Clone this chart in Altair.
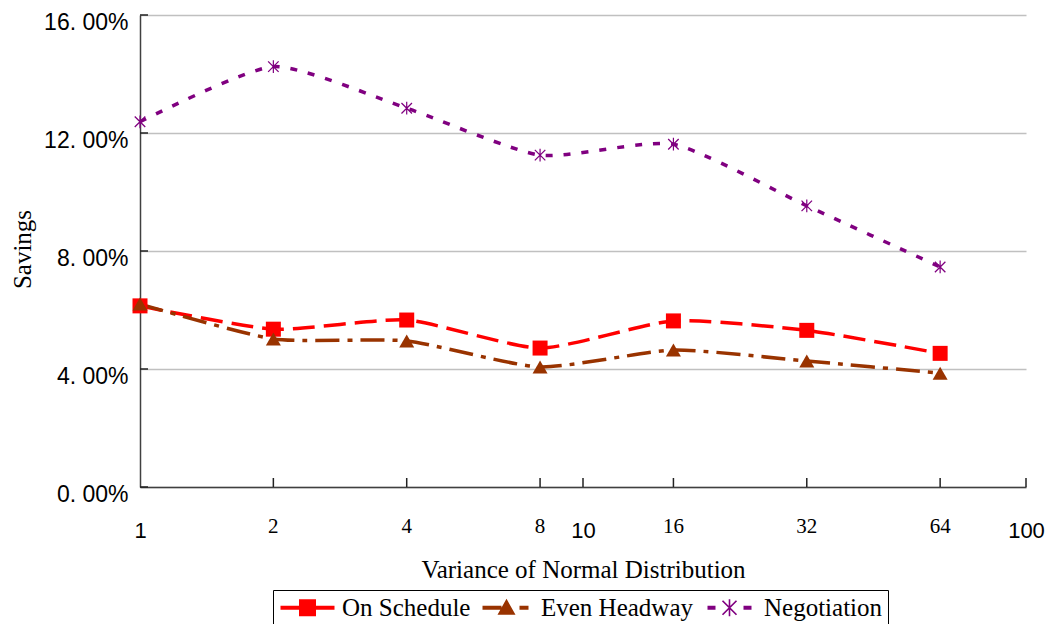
import altair as alt
import pandas as pd

# Savings by variance of the normal distribution (values in percent)
variance = [1, 2, 4, 8, 16, 32, 64]
on_schedule = [6.14, 5.35, 5.66, 4.71, 5.63, 5.31, 4.53]
even_headway = [6.20, 5.02, 4.95, 4.07, 4.64, 4.27, 3.86]
negotiation = [12.38, 14.25, 12.84, 11.25, 11.62, 9.53, 7.46]

series_names = ["On Schedule", "Even Headway", "Negotiation"]
series_colors = ["#FF0000", "#993300", "#800080"]
series_dashes = [[22, 9], [24, 8, 5, 8], [7, 11]]

y_ticks = [0, 4, 8, 12, 16]
x_ticks = [2, 4, 8, 10, 16, 32, 64, 100]
x_axis_labels = [1, 10, 100]
x_point_labels = [2, 4, 8, 16, 32, 64]

SANS = "Liberation Sans"
SERIF = "Liberation Serif"

rows = []
for name, vals in zip(series_names, [on_schedule, even_headway, negotiation]):
    for v, s in zip(variance, vals):
        rows.append({"series": name, "variance": v, "savings": s})
df = pd.DataFrame(rows)

# marker shapes
ASTERISK = ("M-0.08,-0.85H0.08V0.85H-0.08Z "
            "M-0.64,-0.76L0.76,0.64L0.64,0.76L-0.76,-0.64Z "
            "M-0.76,0.64L0.64,-0.76L0.76,-0.64L-0.64,0.76Z")
marker_shapes = ["square", "triangle-up", ASTERISK]

# legend keys: dash + marker + dash
KEY_SCHEDULE = "M-2.7,-0.2H2.7V0.2H-2.7Z M-0.85,-0.85H0.85V0.85H-0.85Z"
KEY_HEADWAY = ("M-2.4,-0.2H-0.5V0.2H-2.4Z M0,-0.9L0.9,0.7H-0.9Z "
               "M1.3,-0.2H2.2V0.2H1.3Z")
KEY_NEGOTIATION = ("M-2.2,-0.2H-1.4V0.2H-2.2Z M1.4,-0.2H2.2V0.2H1.4Z "
                   "M-0.08,-0.85H0.08V0.85H-0.08Z "
                   "M-0.64,-0.76L0.76,0.64L0.64,0.76L-0.76,-0.64Z "
                   "M-0.76,0.64L0.64,-0.76L0.76,-0.64L-0.64,0.76Z")
legend_keys = [KEY_SCHEDULE, KEY_HEADWAY, KEY_NEGOTIATION]

W, H = 886, 472
x_scale = alt.Scale(type="log", domain=[1, 100])
y_scale = alt.Scale(domain=[0, 16], nice=False, zero=True)

x_axis = alt.Axis(
    values=x_axis_labels, format="d", labelFont=SANS, labelFontSize=22,
    labelColor="black", labelPadding=33, labelFlush=False, labelOverlap=False,
    ticks=False, grid=False, domainColor="#404040", domainWidth=1.5,
    title="Variance of Normal Distribution", titleFont=SERIF, titleFontSize=25,
    titleFontWeight="normal", titleColor="black", titleY=82,
    titleBaseline="middle",
)
y_axis = alt.Axis(
    values=y_ticks,
    labelExpr="replace(format(datum.value, '.2f'), '.', '. ') + '%'",
    labelFont=SANS, labelFontSize=23, labelColor="black", labelPadding=12,
    labelBaseline="middle", labelOffset=7,
    ticks=False, grid=True, gridColor="#C0C0C0", gridWidth=1.3,
    domainColor="#404040", domainWidth=1.5,
    title="Savings", titleFont=SERIF, titleFontSize=25, titleFontWeight="normal",
    titleColor="black", titleAngle=270, titleX=-118, titleY=234,
    titleAlign="center", titleBaseline="middle",
)

X = alt.X("variance:Q", scale=x_scale, axis=x_axis)
Y = alt.Y("savings:Q", scale=y_scale, axis=y_axis)

lines = alt.Chart(df).mark_line(interpolate="cardinal", tension=0.4, strokeWidth=3.5).encode(
    x=X,
    y=Y,
    stroke=alt.Stroke("series:N", scale=alt.Scale(domain=series_names, range=series_colors), legend=None),
    strokeDash=alt.StrokeDash("series:N", scale=alt.Scale(domain=series_names, range=series_dashes), legend=None),
)

points = alt.Chart(df).mark_point(filled=True, size=225, opacity=1).encode(
    x=X,
    y=Y,
    fill=alt.Fill("series:N", scale=alt.Scale(domain=series_names, range=series_colors), legend=None),
    shape=alt.Shape("series:N", scale=alt.Scale(domain=series_names, range=marker_shapes), legend=None),
)

legend_def = alt.Legend(
    title=None, orient="none", legendX=133, legendY=575, direction="horizontal",
    columns=3, labelFont=SERIF, labelFontSize=25, labelColor="black",
    labelOffset=22, symbolOffset=17, columnPadding=6, padding=5,
    strokeColor="black", symbolOpacity=1, symbolSize=400, symbolStrokeWidth=0,
    labelLimit=400,
)

legend_layer = alt.Chart(df).transform_filter("false").mark_point(filled=True, size=400).encode(
    x=X,
    y=Y,
    color=alt.Color("series:N", scale=alt.Scale(domain=series_names, range=series_colors), legend=legend_def),
    shape=alt.Shape("series:N", scale=alt.Scale(domain=series_names, range=legend_keys), legend=legend_def),
)

# inward tick marks on both axes
y_tick_marks = alt.Chart(pd.DataFrame({"savings": y_ticks})).mark_rule(
    color="#222222", strokeWidth=1.5
).encode(
    y=Y,
    x=alt.value(0), x2=alt.value(8),
)
x_tick_marks = alt.Chart(pd.DataFrame({"variance": x_ticks})).mark_rule(
    color="#222222", strokeWidth=1.5
).encode(
    x=X,
    y=alt.value(H), y2=alt.value(H - 9),
)

# variance values printed under each data column
x_value_labels = alt.Chart(pd.DataFrame({"variance": x_point_labels})).mark_text(
    font=SERIF, fontSize=21, baseline="top", color="black"
).encode(
    x=X,
    y=alt.value(H + 29),
    text=alt.Text("variance:Q", format="d"),
)

chart = alt.layer(
    lines, points, legend_layer, y_tick_marks, x_tick_marks, x_value_labels
).resolve_scale(
    color="independent", shape="independent"
).properties(
    width=W, height=H,
    autosize=alt.AutoSizeParams(type="none"),
    padding={"left": 140, "top": 15, "right": 25, "bottom": 137},
    background="white",
).configure(
    font=SERIF,
    style={"guide-label": {"font": SERIF}},
).configure_view(stroke=None).configure_legend(
    labelFont=SERIF, labelFontSize=25, labelColor="black"
)

chart.save("out.html", embed_options={"renderer": "svg", "actions": False})
